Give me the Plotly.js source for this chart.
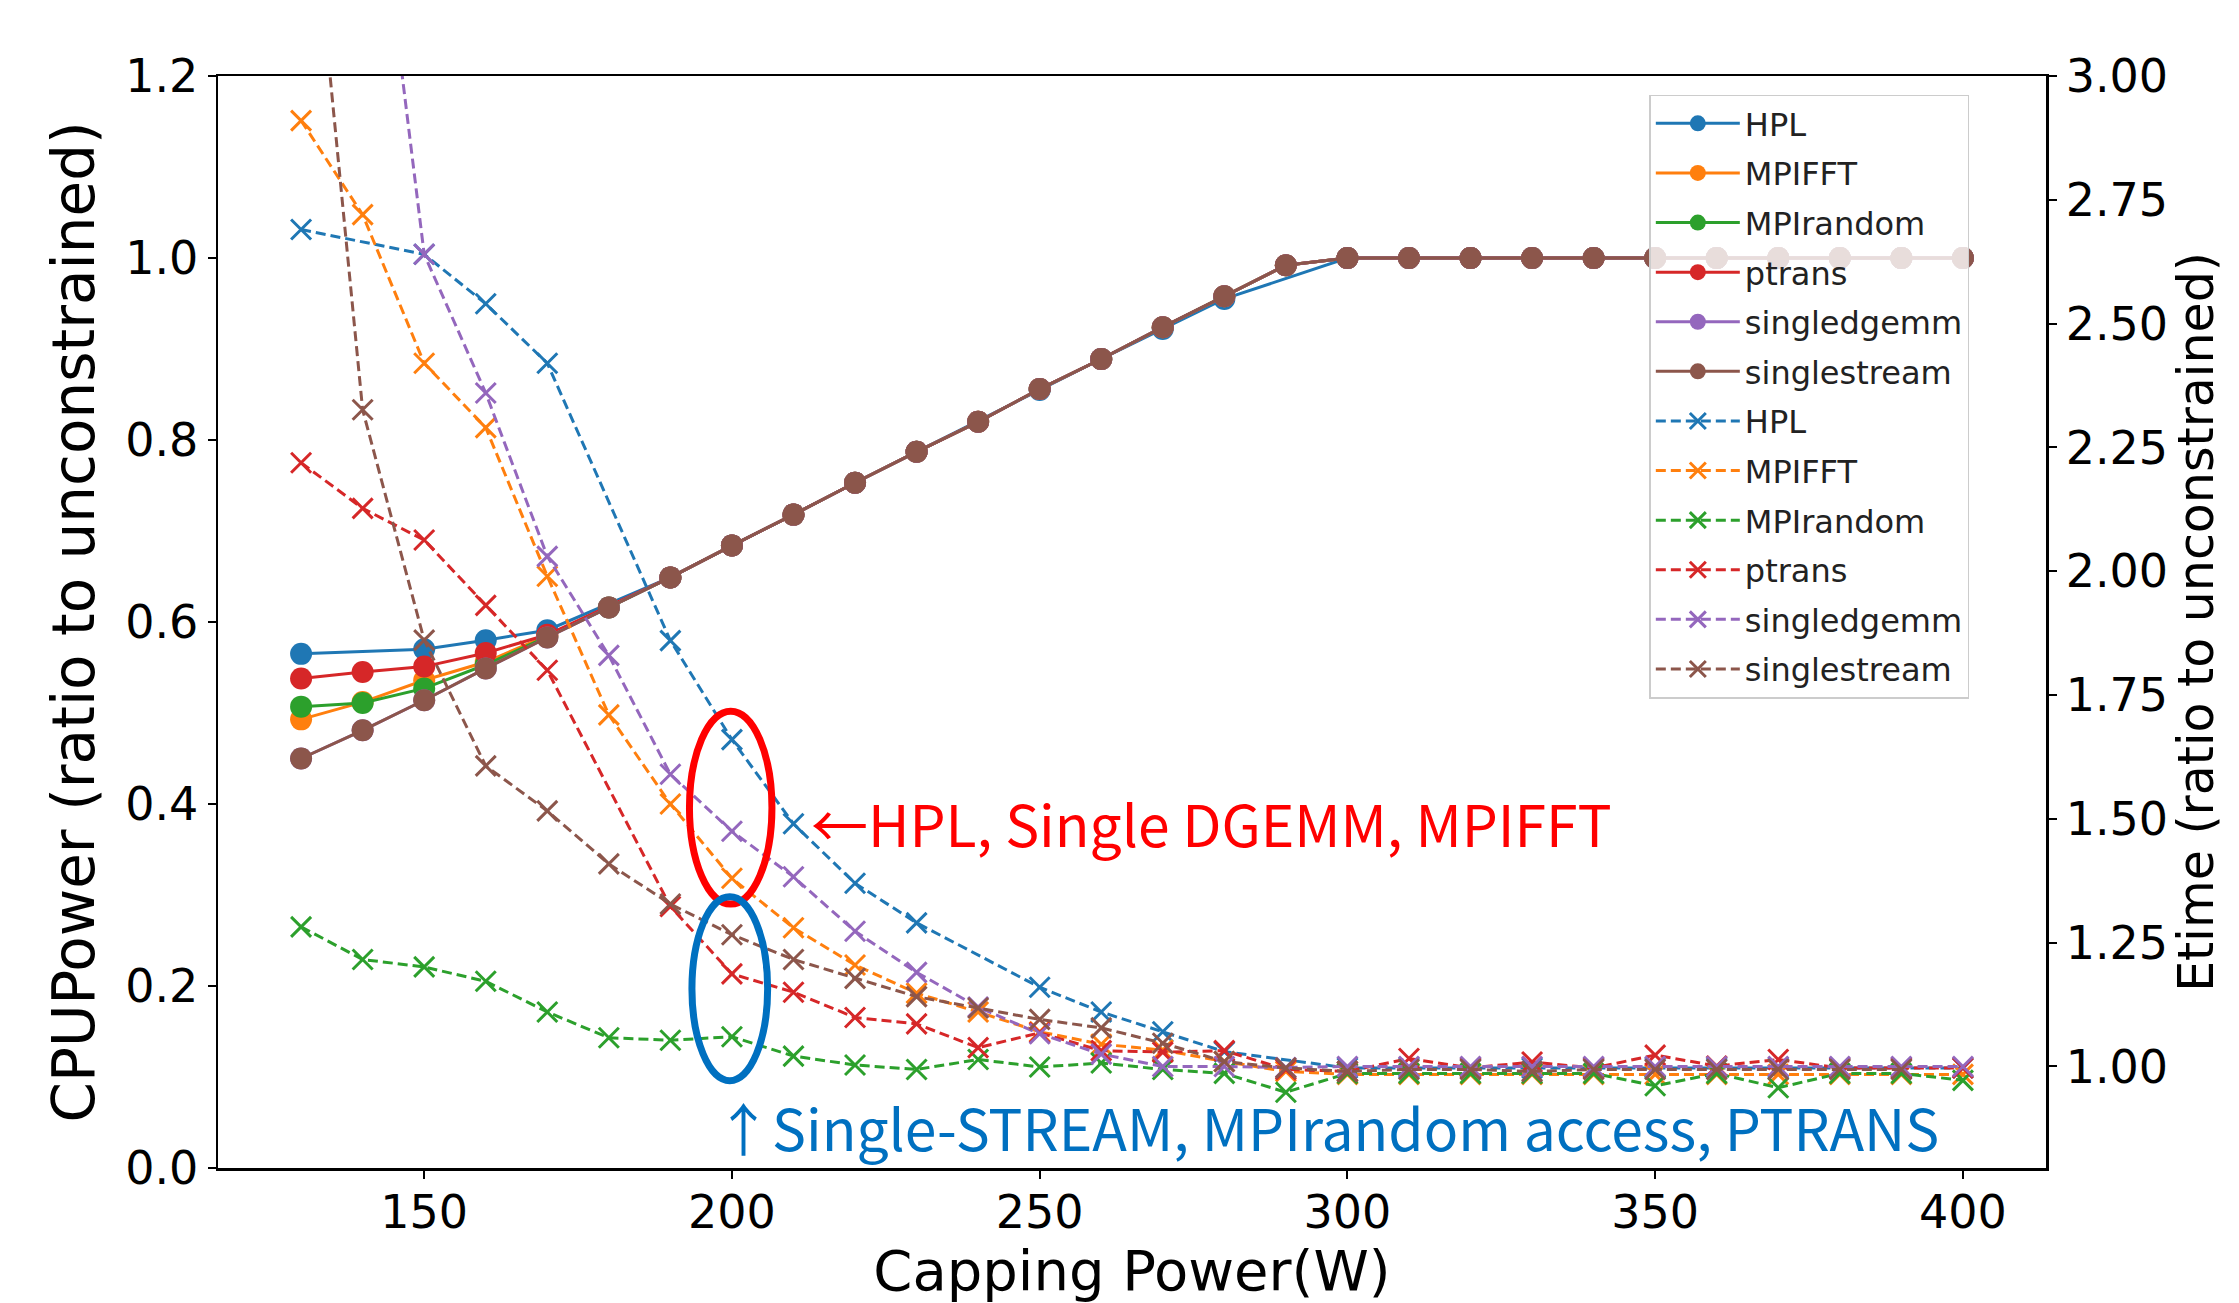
<!DOCTYPE html>
<html>
<head>
<meta charset="utf-8">
<script src="https://cdn.plot.ly/plotly-3.0.1.min.js"></script>
<style>
  html, body { margin: 0; padding: 0; background: #ffffff; }
  #chart { width: 2239px; height: 1303px; }
</style>
</head>
<body>
<div id="chart"></div>
<script>
// Capping power (W)
const cappingPower = [130, 140, 150, 160, 170, 180, 190, 200, 210, 220, 230, 240, 250, 260, 270, 280, 290,
                      300, 310, 320, 330, 340, 350, 360, 370, 380, 390, 400];

const benchmarks = ["HPL", "MPIFFT", "MPIrandom", "ptrans", "singledgemm", "singlestream"];

// CPUPower (ratio to unconstrained) — left axis, solid lines with circles
const cpuHPL          = [0.565, null, 0.570, 0.580, 0.591, null, 0.649, 0.684, 0.718, 0.753, 0.787, null, 0.855, 0.889, 0.922, 0.955, null,
                         1.0, 1.0, 1.0, 1.0, 1.0, 1.0, 1.0, 1.0, 1.0, 1.0, 1.0];
const cpuMPIFFT       = [0.493, 0.512, 0.536, 0.556, 0.585, 0.616, 0.649, 0.684, 0.718, 0.753, 0.787, 0.820, 0.856, 0.889, 0.924, 0.958, 0.992,
                         1.0, 1.0, 1.0, 1.0, 1.0, 1.0, 1.0, 1.0, 1.0, 1.0, 1.0];
const cpuMPIrandom    = [0.507, 0.511, 0.527, 0.553, 0.584, 0.616, 0.649, 0.684, 0.718, 0.753, 0.787, 0.820, 0.856, 0.889, 0.924, 0.958, 0.992,
                         1.0, 1.0, 1.0, 1.0, 1.0, 1.0, 1.0, 1.0, 1.0, 1.0, 1.0];
const cpuPtrans       = [0.538, 0.545, 0.551, 0.566, 0.586, null, 0.649, 0.684, 0.718, 0.753, 0.787, 0.820, 0.856, 0.889, 0.924, 0.958, 0.992,
                         1.0, 1.0, 1.0, 1.0, 1.0, 1.0, 1.0, 1.0, 1.0, 1.0, 1.0];
const cpuSingledgemm  = [0.450, 0.481, 0.514, 0.549, 0.583, 0.616, 0.649, 0.684, 0.718, 0.753, 0.787, 0.820, 0.856, 0.889, 0.924, 0.958, 0.992,
                         1.0, 1.0, 1.0, 1.0, 1.0, 1.0, 1.0, 1.0, 1.0, 1.0, 1.0];
const cpuSinglestream = [0.450, 0.481, 0.514, 0.549, 0.583, 0.616, 0.649, 0.684, 0.718, 0.753, 0.787, 0.820, 0.856, 0.889, 0.924, 0.958, 0.992,
                         1.0, 1.0, 1.0, 1.0, 1.0, 1.0, 1.0, 1.0, 1.0, 1.0, 1.0];

// Etime (ratio to unconstrained) — right axis, dashed lines with x markers
const etHPL          = [2.69, null, 2.64, 2.54, 2.42, null, 1.86, 1.66, 1.49, 1.37, 1.29, null, 1.16, 1.11, 1.07, 1.03, null,
                        0.997, 0.997, 0.997, 0.997, 0.997, 0.997, 0.997, 0.997, 0.997, 0.997, 0.997];
const etMPIFFT       = [2.91, 2.72, 2.42, 2.29, 1.99, 1.71, 1.53, 1.38, 1.28, 1.205, 1.148, 1.110, 1.070, 1.045, 1.033, 1.010, 0.990,
                        0.984, 0.984, 0.984, 0.984, 0.984, 0.984, 0.984, 0.984, 0.984, 0.984, 0.984];
const etMPIrandom    = [1.282, 1.216, 1.201, 1.172, 1.110, 1.058, 1.053, 1.060, 1.021, 1.003, 0.994, 1.014, 0.999, 1.007, 0.994, 0.986, 0.948,
                        0.986, 0.986, 0.986, 0.986, 0.986, 0.961, 0.986, 0.957, 0.986, 0.986, 0.972];
const etPtrans       = [2.219, 2.127, 2.063, 1.931, 1.800, null, 1.323, 1.187, 1.150, 1.099, 1.086, 1.038, 1.068, 1.032, 1.029, 1.032, 0.994,
                        0.990, 1.016, 0.997, 1.009, 0.997, 1.023, 1.001, 1.014, 0.997, 0.997, 0.997];
const etSingledgemm  = [4.05, 3.65, 2.64, 2.36, 2.03, 1.83, 1.59, 1.475, 1.383, 1.273, 1.19, 1.12, 1.066, 1.025, 1.0, 1.0, 0.998,
                        1.0, 1.0, 1.0, 1.0, 1.0, 1.0, 1.0, 1.0, 1.0, 1.0, 1.0];
const etSinglestream = [3.60, 2.326, 1.861, 1.607, 1.516, 1.409, 1.328, 1.266, 1.216, 1.178, 1.141, 1.118, 1.095, 1.078, 1.047, 1.010, 0.997,
                        0.990, 0.994, 0.994, 0.990, 0.994, 0.994, 0.994, 0.994, 0.994, 0.994];

const xTickVals   = [150, 200, 250, 300, 350, 400];
const yTickVals   = [0.0, 0.2, 0.4, 0.6, 0.8, 1.0, 1.2];
const y2TickVals  = [1.00, 1.25, 1.50, 1.75, 2.00, 2.25, 2.50, 2.75, 3.00];

const noteRed  = "←HPL, Single DGEMM, MPIFFT";
const noteBlue = "↑Single-STREAM, MPIrandom access, PTRANS";

// ---- styling ----
const colors = ["#1f77b4", "#ff7f0e", "#2ca02c", "#d62728", "#9467bd", "#8c564b"];
const cpuSeries = [cpuHPL, cpuMPIFFT, cpuMPIrandom, cpuPtrans, cpuSingledgemm, cpuSinglestream];
const etSeries  = [etHPL, etMPIFFT, etMPIrandom, etPtrans, etSingledgemm, etSinglestream];

const traces = [];
benchmarks.forEach((name, i) => {
  traces.push({
    type: "scatter", mode: "lines+markers", name: name,
    x: cappingPower, y: cpuSeries[i], yaxis: "y", connectgaps: true,
    legendgroup: "c" + i,
    line: { color: colors[i], width: 3 },
    marker: { symbol: "circle", size: 22, color: colors[i] }
  });
});
benchmarks.forEach((name, i) => {
  traces.push({
    type: "scatter", mode: "lines+markers", name: name,
    x: cappingPower, y: etSeries[i], yaxis: "y2", connectgaps: true,
    legendgroup: "e" + i,
    line: { color: colors[i], width: 3, dash: "10px,5px" },
    marker: { symbol: "x-thin", size: 20, color: colors[i], line: { color: colors[i], width: 3 } }
  });
});

const tickFont = { family: "DejaVu Sans", size: 46, color: "#000000" };

const layout = {
  width: 2239, height: 1303,
  margin: { l: 218, r: 193, t: 76, b: 135, pad: 0 },
  paper_bgcolor: "#ffffff", plot_bgcolor: "#ffffff",
  showlegend: true,
  xaxis: {
    range: [116.5, 413.5], tickvals: xTickVals, ticks: "outside", ticklen: 8, tickwidth: 2,
    ticklabelstandoff: -6,
    tickcolor: "#000", showline: true, linecolor: "#000", linewidth: 2.5, mirror: true,
    showgrid: false, zeroline: false, tickfont: tickFont, automargin: false,
    title: { text: "Capping Power(W)", font: { family: "DejaVu Sans", size: 56, color: "#000" }, standoff: 14 }
  },
  yaxis: {
    range: [0, 1.2], tickvals: yTickVals, tickformat: ".1f", ticks: "outside", ticklen: 8, tickwidth: 2,
    tickcolor: "#000", showline: true, linecolor: "#000", linewidth: 2.5,
    showgrid: false, zeroline: false, tickfont: tickFont, automargin: false,
    title: { text: "CPUPower (ratio to unconstrained)", font: { family: "DejaVu Sans", size: 58, color: "#000" }, standoff: 12 }
  },
  yaxis2: {
    overlaying: "y", side: "right",
    range: [0.795, 3.0], tickvals: y2TickVals, tickformat: ".2f", ticks: "outside", ticklen: 8, tickwidth: 2,
    tickcolor: "#000", showline: true, linecolor: "#000", linewidth: 2.5,
    showgrid: false, zeroline: false, tickfont: tickFont, automargin: false,
    title: { text: "Etime (ratio to unconstrained)", font: { family: "DejaVu Sans", size: 49, color: "#000" }, standoff: 12 }
  },
  legend: {
    x: 0.783, y: 0.983, xanchor: "left", yanchor: "top",
    bgcolor: "rgba(255,255,255,0.8)", bordercolor: "#cccccc", borderwidth: 1.5,
    font: { family: "DejaVu Sans", size: 32, color: "#222" },
    itemwidth: 84, tracegroupgap: 5
  },
  shapes: [
    { type: "circle", xref: "x", yref: "y", x0: 193.1, x1: 206.5, y0: 0.290, y1: 0.502,
      line: { color: "#ff0000", width: 7 } },
    { type: "circle", xref: "x", yref: "y", x0: 193.5, x1: 205.8, y0: 0.096, y1: 0.298,
      line: { color: "#0070c0", width: 7 } }
  ],
  annotations: [
    { text: noteRed, xref: "x", yref: "y", x: 212.5, y: 0.380, xanchor: "left", yanchor: "middle",
      showarrow: false, font: { family: "Noto Sans CJK JP", size: 57, color: "#ff0000" } },
    { text: noteBlue, xref: "x", yref: "y", x: 197.0, y: 0.046, xanchor: "left", yanchor: "middle",
      showarrow: false, font: { family: "Noto Sans CJK JP", size: 57, color: "#0070c0" } }
  ]
};

Plotly.newPlot("chart", traces, layout, { staticPlot: true, displayModeBar: false });
</script>
</body>
</html>
